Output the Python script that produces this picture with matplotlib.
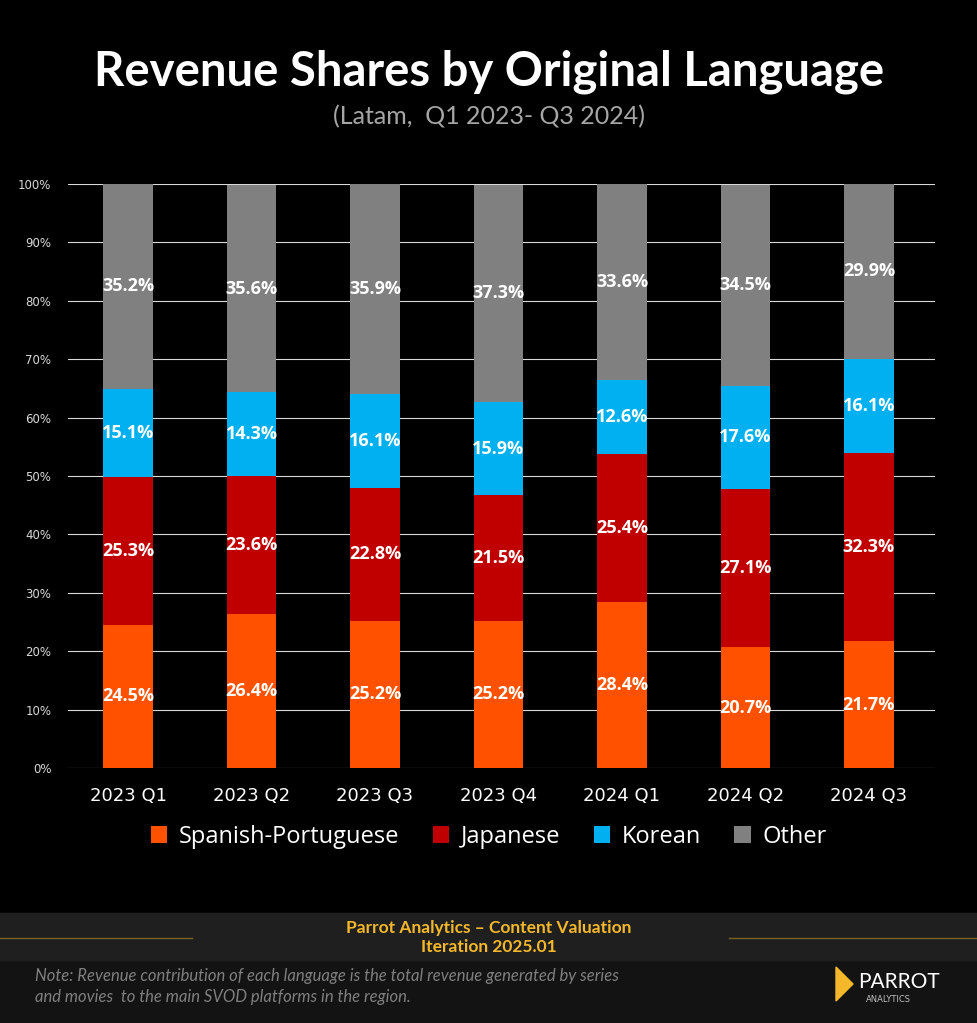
import numpy as np
import matplotlib.pyplot as plt
from matplotlib.patches import Rectangle, Polygon

quarters = ["2023 Q1", "2023 Q2", "2023 Q3", "2023 Q4", "2024 Q1", "2024 Q2", "2024 Q3"]
spanish = [24.5, 26.4, 25.2, 25.2, 28.4, 20.7, 21.7]
japanese = [25.3, 23.6, 22.8, 21.5, 25.4, 27.1, 32.3]
korean = [15.1, 14.3, 16.1, 15.9, 12.6, 17.6, 16.1]
other = [35.2, 35.6, 35.9, 37.3, 33.6, 34.5, 29.9]

series = [("Spanish-Portuguese", spanish, "#ff5100"),
          ("Japanese", japanese, "#c00000"),
          ("Korean", korean, "#00b0f0"),
          ("Other", other, "#808080")]

W, H = 978, 1023
fig = plt.figure(figsize=(W / 100, H / 100), dpi=100, facecolor="black")

# footer bands
fig.patches.append(Rectangle((0, 0), 1, 63 / H, transform=fig.transFigure,
                             color="#131313", zorder=0))
fig.patches.append(Rectangle((0, 63 / H), 1, 47 / H, transform=fig.transFigure,
                             color="#1f1f1f", zorder=0))
for x0, x1 in [(0, 192), (729, W)]:
    fig.lines.append(plt.Line2D([x0 / W, x1 / W], [1 - 938 / H] * 2,
                                transform=fig.transFigure, color="#7a6420", lw=1))

ax = fig.add_axes([68 / W, 1 - 768 / H, (935 - 68) / W, (768 - 184) / H])
ax.set_facecolor("black")
x = np.arange(len(quarters))
bottom = np.zeros(len(quarters))
for name, vals, col in series:
    vals = np.array(vals)
    ax.bar(x, vals, 0.4, bottom=bottom, color=col, label=name, zorder=3)
    for xi, b, v in zip(x, bottom, vals):
        ax.text(xi, b + v / 2, f"{v:.1f}%", ha="center", va="center",
                color="white", fontsize=13, fontweight="bold", zorder=4,
                family="Open Sans")
    bottom += vals

ax.set_xlim(-0.486, 6.535)
ax.set_ylim(0, 100)
ax.set_yticks(np.arange(0, 101, 10))
ax.set_yticklabels([f"{v}%" for v in range(0, 101, 10)], color="#d9d9d9", fontsize=8.5)
ax.set_xticks(x)
ax.set_xticklabels(quarters, color="white", fontsize=13)
ax.tick_params(length=0, pad=14)
ax.tick_params(axis="y", pad=12)
ax.grid(axis="y", color="#d9d9d9", lw=0.8, zorder=0)
for s in ax.spines.values():
    s.set_visible(False)

leg = fig.legend(loc="center", bbox_to_anchor=(0.5, 1 - 837 / H), ncol=4,
                 frameon=False, handlelength=0.7, handleheight=0.7,
                 columnspacing=1.4, handletextpad=0.5, prop={"family": "Open Sans", "size": 17})
for t in leg.get_texts():
    t.set_color("white")

fig.text(0.5, 1 - 72 / H, "Revenue Shares by Original Language", ha="center",
         va="center", color="white", fontsize=34, fontweight="bold", family="Lato")
fig.text(0.5, 1 - 117 / H, "(Latam,  Q1 2023- Q3 2024)", ha="center", va="center",
         color="#a6a6a6", fontsize=18, family="Lato")

fig.text(0.5, 1 - 928 / H, "Parrot Analytics \u2013 Content Valuation", ha="center",
         va="center", color="#f5b82a", fontsize=12.5, family="Lato", fontweight="bold")
fig.text(0.5, 1 - 947 / H, "Iteration 2025.01", ha="center", va="center",
         color="#f5b82a", fontsize=12.5, family="Lato", fontweight="bold")
fig.text(35 / W, 1 - 976 / H, "Note: Revenue contribution of each language is the total revenue generated by series",
         ha="left", va="center", color="#7f7f7f", fontsize=12, style="italic", family="Lato")
fig.text(35 / W, 1 - 997 / H, "and movies  to the main SVOD platforms in the region.",
         ha="left", va="center", color="#7f7f7f", fontsize=12, style="italic", family="Lato")

# logo
fig.patches.append(Polygon([[836 / W, 1 - 967 / H], [853 / W, 1 - 984 / H],
                            [836 / W, 1 - 1001 / H]], closed=True,
                           transform=fig.transFigure, color="#f5b82a"))
fig.text(858 / W, 1 - 982 / H, "PARROT", ha="left", va="center", color="white",
         fontsize=15, family="Lato")
fig.text(866 / W, 1 - 999 / H, "ANALYTICS", ha="left", va="center", color="#bfbfbf",
         fontsize=6)

fig.savefig("out.png", dpi=100, facecolor="black")
